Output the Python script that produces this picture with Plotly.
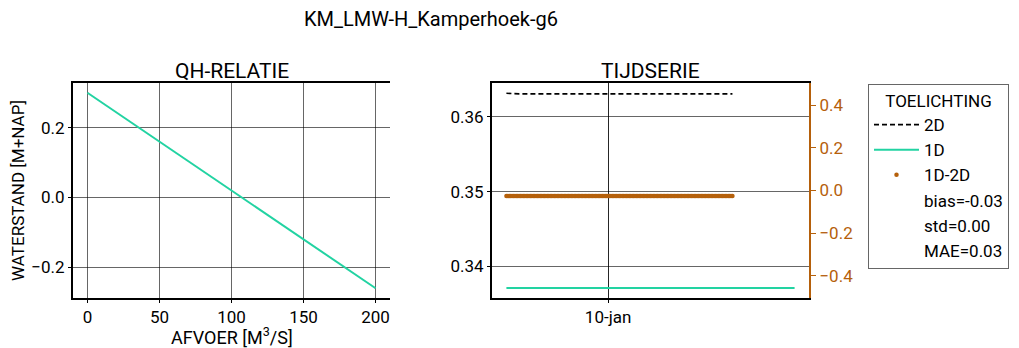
import pandas as pd
import plotly.graph_objects as go

# ---------------- data ----------------
title_main = "KM_LMW-H_Kamperhoek-g6"

# QH relation
q_afvoer = [0, 50, 100, 150, 200]
h_qh = [0.30, 0.16, 0.02, -0.12, -0.26]

# time series (10-minute steps)
t_1d = pd.date_range("2021-01-09 12:00", "2021-01-10 22:00", freq="10min")
t_2d = pd.date_range("2021-01-09 12:00", "2021-01-10 14:40", freq="10min")
h_1d = [0.33714] * len(t_1d)
h_2d = [0.36313, 0.36311, 0.36309, 0.36307] + [0.36305] * (len(t_2d) - 4)

bias_txt = "bias=-0.03"
std_txt = "std=0.00"
mae_txt = "MAE=0.03"

# ---------------- style ----------------
OFF = 8                      # page body margin
W, H = 1019 - OFF, 348 - OFF  # figure size so that it fills the window
FONT = "Roboto"
WEIGHT = "normal"
ORANGE = "#b5600b"
TEAL = "#22d3a2"
GRID = "rgba(0,0,0,0.6)"


def fx(px):
    return (px - OFF) / W


def fy(px):
    return 1 - (px - OFF) / H


def fnt(size, color="black"):
    return dict(family=FONT, size=size, color=color, weight=WEIGHT)


# derived: difference 1D - 2D where both exist
n_common = min(len(t_1d), len(t_2d))
t_diff = t_2d[:n_common]
d_diff = [h_1d[i] - h_2d[i] for i in range(n_common)]

fig = go.Figure()

# left panel
fig.add_trace(go.Scatter(x=q_afvoer, y=h_qh, mode="lines", line=dict(color=TEAL, width=2),
                         xaxis="x", yaxis="y", showlegend=False))

# right panel
fig.add_trace(go.Scatter(x=t_2d, y=h_2d, mode="lines", name="2D",
                         line=dict(color="black", width=1.6, dash="5px,3px"),
                         xaxis="x2", yaxis="y3"))
fig.add_trace(go.Scatter(x=t_1d, y=h_1d, mode="lines", name="1D",
                         line=dict(color=TEAL, width=2),
                         xaxis="x2", yaxis="y3"))
fig.add_trace(go.Scatter(x=t_diff, y=d_diff, mode="markers", name="1D-2D",
                         marker=dict(color=ORANGE, size=4.5),
                         xaxis="x2", yaxis="y4"))
for txt in [bias_txt, std_txt, mae_txt]:
    fig.add_trace(go.Scatter(x=[None], y=[None], mode="markers", name=txt,
                             marker=dict(color="rgba(0,0,0,0)", size=1),
                             xaxis="x2", yaxis="y3"))

ydom = [fy(298), fy(83)]
common_axis = dict(showline=True, linecolor="black", linewidth=2, ticks="outside",
                   ticklen=3, tickwidth=1, tickcolor="black", zeroline=False,
                   tickfont=fnt(17))
sec_axis = dict(side="right", range=[-0.505, 0.505],
                tickvals=[-0.4, -0.2, 0.0, 0.2, 0.4], tickformat=".1f", showgrid=False,
                showline=True, linecolor=ORANGE, linewidth=2, ticks="outside", ticklen=5,
                tickcolor=ORANGE, zeroline=False, tickfont=fnt(17, ORANGE))

fig.update_layout(
    width=W, height=H,
    margin=dict(l=0, r=0, t=0, b=0, autoexpand=False),
    paper_bgcolor="white", plot_bgcolor="white",
    font=dict(family=FONT, color="black", weight=WEIGHT),
    xaxis=dict(domain=[fx(73), fx(390)], range=[-10, 210], tickvals=[0, 50, 100, 150, 200],
               showgrid=True, gridcolor=GRID, gridwidth=1, mirror=True, anchor="y",
               **common_axis),
    yaxis=dict(domain=ydom, range=[-0.288, 0.328], tickvals=[-0.2, 0.0, 0.2], tickformat=".1f",
               showgrid=True, gridcolor=GRID, gridwidth=1, anchor="x",
               title=dict(text="WATERSTAND [M+NAP]", font=fnt(17), standoff=6),
               **common_axis),
    yaxis2=dict(overlaying="y", anchor="x", **sec_axis),
    xaxis2=dict(domain=[fx(492), fx(809)], type="date",
                range=["2021-01-09 10:18", "2021-01-10 23:42"],
                tickvals=["2021-01-10"], ticktext=["10-jan"],
                showgrid=True, gridcolor="rgba(0,0,0,0.85)", gridwidth=1, mirror=True, anchor="y3",
                **common_axis),
    yaxis3=dict(domain=ydom, range=[0.3358, 0.3645], tickvals=[0.34, 0.35, 0.36], tickformat=".2f",
                showgrid=True, gridcolor=GRID, gridwidth=1, anchor="x2",
                **common_axis),
    yaxis4=dict(overlaying="y3", anchor="x2", **sec_axis),
    legend=dict(x=fx(868), y=fy(84), xanchor="left", yanchor="top",
                bordercolor="#666", borderwidth=1, bgcolor="white",
                font=fnt(17),
                itemwidth=45,
                title=dict(text="TOELICHTING", side="top center", font=fnt(17))),
    annotations=[
        dict(text=title_main, x=fx(431), y=fy(19), xref="paper", yref="paper",
             xanchor="center", yanchor="middle",
             showarrow=False, font=fnt(20)),
        dict(text="QH-RELATIE", x=fx(231.5), y=fy(71), xref="paper", yref="paper",
             xanchor="center", yanchor="middle",
             showarrow=False, font=fnt(21)),
        dict(text="TIJDSERIE", x=fx(650.5), y=fy(71), xref="paper", yref="paper",
             xanchor="center", yanchor="middle",
             showarrow=False, font=fnt(21)),
        dict(text="AFVOER [M<sup>3</sup>/S]", x=fx(231.5), y=fy(336), xref="paper", yref="paper",
             xanchor="center", yanchor="middle",
             showarrow=False, font=fnt(18)),
    ],
)

fig.write_html("out.html")
